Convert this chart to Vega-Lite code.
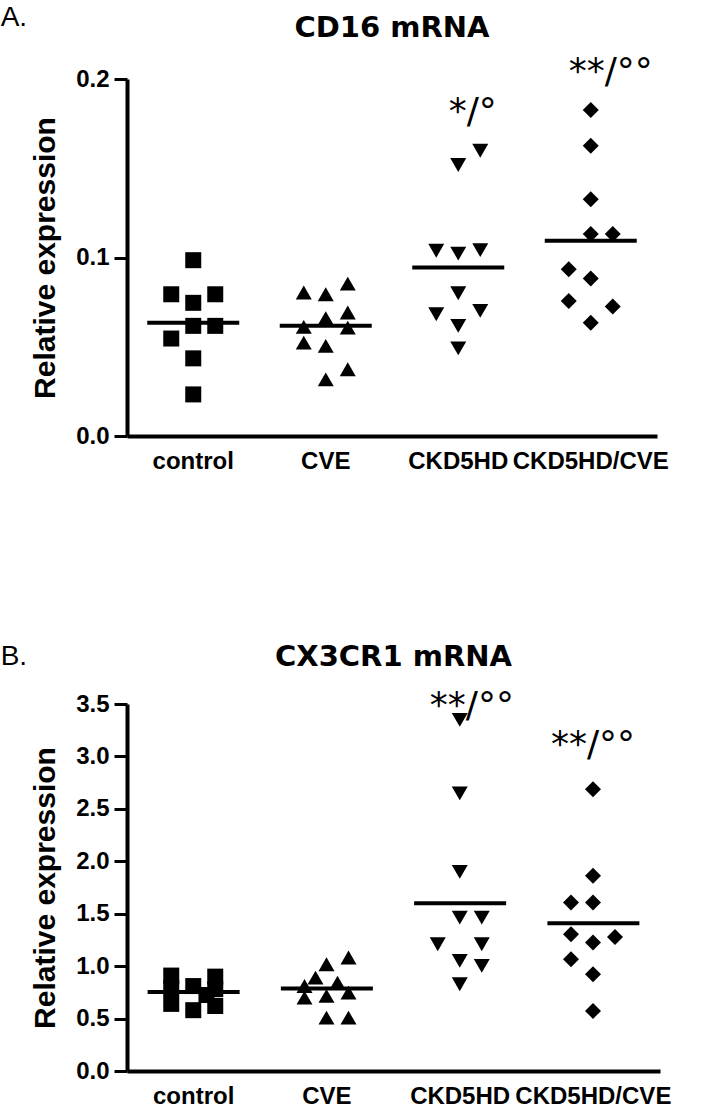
{
  "$schema": "https://vega.github.io/schema/vega-lite/v6.json",
  "background": "white",
  "padding": {"left": 0, "top": 3, "right": 5, "bottom": 0},
  "config": {
    "font": "Liberation Sans",
    "view": {"stroke": null},
    "axis": {"grid": false, "domainColor": "black", "domainWidth": 4, "tickColor": "black", "tickWidth": 3, "tickSize": 13, "labelColor": "black", "labelFont": "Liberation Sans", "labelFontWeight": "bold", "titleColor": "black", "titleFont": "Liberation Sans", "titleFontWeight": "bold"},
    "axisX": {"ticks": false, "labelAngle": 0, "labelFontSize": 24, "labelPadding": 13, "title": null},
    "axisY": {"labelFontSize": 24, "labelPadding": 5, "titleFontSize": 30, "titlePadding": 15},
    "title": {"color": "black"},
    "concat": {"spacing": 169}
  },
  "datasets": {
    "a_pts": [
      {"group": "control", "jitter": 0, "value": 0.0985},
      {"group": "control", "jitter": -1, "value": 0.0794},
      {"group": "control", "jitter": 1, "value": 0.0794},
      {"group": "control", "jitter": 0, "value": 0.0746},
      {"group": "control", "jitter": 0, "value": 0.0617},
      {"group": "control", "jitter": 1, "value": 0.0617},
      {"group": "control", "jitter": -1, "value": 0.0546},
      {"group": "control", "jitter": 0, "value": 0.0435},
      {"group": "control", "jitter": 0, "value": 0.0233},
      {"group": "CVE", "jitter": -1, "value": 0.0804},
      {"group": "CVE", "jitter": 0, "value": 0.0794},
      {"group": "CVE", "jitter": 1, "value": 0.0854},
      {"group": "CVE", "jitter": 0, "value": 0.0660},
      {"group": "CVE", "jitter": 1, "value": 0.0692},
      {"group": "CVE", "jitter": -1, "value": 0.0611},
      {"group": "CVE", "jitter": 1, "value": 0.0607},
      {"group": "CVE", "jitter": -1, "value": 0.0523},
      {"group": "CVE", "jitter": 0, "value": 0.0505},
      {"group": "CVE", "jitter": 1, "value": 0.0374},
      {"group": "CVE", "jitter": 0, "value": 0.0317},
      {"group": "CKD5HD", "jitter": 1, "value": 0.1598},
      {"group": "CKD5HD", "jitter": 0, "value": 0.1518},
      {"group": "CKD5HD", "jitter": -1, "value": 0.1038},
      {"group": "CKD5HD", "jitter": 0, "value": 0.1022},
      {"group": "CKD5HD", "jitter": 1, "value": 0.1041},
      {"group": "CKD5HD", "jitter": 0, "value": 0.0800},
      {"group": "CKD5HD", "jitter": -1, "value": 0.0682},
      {"group": "CKD5HD", "jitter": 1, "value": 0.0701},
      {"group": "CKD5HD", "jitter": 0, "value": 0.0617},
      {"group": "CKD5HD", "jitter": 0, "value": 0.0491},
      {"group": "CKD5HD/CVE", "jitter": 0, "value": 0.1826},
      {"group": "CKD5HD/CVE", "jitter": 0, "value": 0.1626},
      {"group": "CKD5HD/CVE", "jitter": 0, "value": 0.1327},
      {"group": "CKD5HD/CVE", "jitter": 0, "value": 0.1131},
      {"group": "CKD5HD/CVE", "jitter": 1, "value": 0.1131},
      {"group": "CKD5HD/CVE", "jitter": -1, "value": 0.0934},
      {"group": "CKD5HD/CVE", "jitter": 0, "value": 0.0882},
      {"group": "CKD5HD/CVE", "jitter": -1, "value": 0.0757},
      {"group": "CKD5HD/CVE", "jitter": 1, "value": 0.0725},
      {"group": "CKD5HD/CVE", "jitter": 0, "value": 0.0635}
    ],
    "a_means": [
      {"group": "control", "value": 0.0635},
      {"group": "CVE", "value": 0.0617},
      {"group": "CKD5HD", "value": 0.0944},
      {"group": "CKD5HD/CVE", "value": 0.1094}
    ],
    "a_ann": [
      {"group": "CKD5HD", "jitter": 0.66, "value": 0.1754, "label": "*/°"},
      {"group": "CKD5HD/CVE", "jitter": 0.91, "value": 0.1978, "label": "**/°°"}
    ],
    "b_pts": [
      {"group": "control", "jitter": -1, "value": 0.91},
      {"group": "control", "jitter": 1, "value": 0.90},
      {"group": "control", "jitter": 0, "value": 0.81},
      {"group": "control", "jitter": -1, "value": 0.79},
      {"group": "control", "jitter": 0.6, "value": 0.725},
      {"group": "control", "jitter": -1, "value": 0.64},
      {"group": "control", "jitter": 1, "value": 0.62},
      {"group": "control", "jitter": 0, "value": 0.58},
      {"group": "control", "jitter": 1, "value": 0.78},
      {"group": "CVE", "jitter": 0, "value": 1.018},
      {"group": "CVE", "jitter": 1, "value": 1.082},
      {"group": "CVE", "jitter": -0.5, "value": 0.891},
      {"group": "CVE", "jitter": -1, "value": 0.811},
      {"group": "CVE", "jitter": 0.5, "value": 0.843},
      {"group": "CVE", "jitter": -1, "value": 0.700},
      {"group": "CVE", "jitter": 0, "value": 0.716},
      {"group": "CVE", "jitter": 1, "value": 0.748},
      {"group": "CVE", "jitter": 0, "value": 0.509},
      {"group": "CVE", "jitter": 1, "value": 0.509},
      {"group": "CKD5HD", "jitter": 0, "value": 3.349},
      {"group": "CKD5HD", "jitter": 0, "value": 2.647},
      {"group": "CKD5HD", "jitter": 0, "value": 1.899},
      {"group": "CKD5HD", "jitter": 0, "value": 1.463},
      {"group": "CKD5HD", "jitter": 1, "value": 1.463},
      {"group": "CKD5HD", "jitter": -1, "value": 1.209},
      {"group": "CKD5HD", "jitter": 1, "value": 1.209},
      {"group": "CKD5HD", "jitter": 0, "value": 1.050},
      {"group": "CKD5HD", "jitter": 1, "value": 1.002},
      {"group": "CKD5HD", "jitter": 0, "value": 0.827},
      {"group": "CKD5HD/CVE", "jitter": 0, "value": 2.688},
      {"group": "CKD5HD/CVE", "jitter": 0, "value": 1.861},
      {"group": "CKD5HD/CVE", "jitter": -1, "value": 1.607},
      {"group": "CKD5HD/CVE", "jitter": 0, "value": 1.607},
      {"group": "CKD5HD/CVE", "jitter": -1, "value": 1.304},
      {"group": "CKD5HD/CVE", "jitter": 0, "value": 1.225},
      {"group": "CKD5HD/CVE", "jitter": 1, "value": 1.279},
      {"group": "CKD5HD/CVE", "jitter": -1, "value": 1.066},
      {"group": "CKD5HD/CVE", "jitter": 0, "value": 0.923},
      {"group": "CKD5HD/CVE", "jitter": 0, "value": 0.573}
    ],
    "b_means": [
      {"group": "control", "value": 0.754},
      {"group": "CVE", "value": 0.786},
      {"group": "CKD5HD", "value": 1.600},
      {"group": "CKD5HD/CVE", "value": 1.409}
    ],
    "b_ann": [
      {"group": "CKD5HD", "jitter": 0.55, "value": 3.379, "label": "**/°°"},
      {"group": "CKD5HD/CVE", "jitter": 0, "value": 3.007, "label": "**/°°"}
    ]
  },
  "vconcat": [
    {
      "title": {"text": "A.", "anchor": "start", "frame": "bounds", "fontSize": 28, "fontWeight": "normal", "font": "Liberation Sans", "dy": 22, "dx": -30},
      "vconcat": [
        {
          "width": 530,
          "height": 357,
          "title": {"text": "CD16 mRNA", "fontSize": 29, "font": "DejaVu Sans", "fontWeight": "bold", "offset": 11},
          "layer": [
            {
              "data": {"name": "a_pts"},
              "mark": {"type": "point", "filled": true, "opacity": 1, "color": "black", "strokeWidth": 0, "size": 256},
              "encoding": {
                "x": {"field": "group", "type": "nominal", "sort": ["control", "CVE", "CKD5HD", "CKD5HD/CVE"], "scale": {"paddingInner": 0, "paddingOuter": 0}},
                "xOffset": {"field": "jitter", "type": "quantitative", "scale": {"domain": [-1, 1], "range": [44.25, 88.25]}},
                "y": {"field": "value", "type": "quantitative", "scale": {"domain": [0, 0.2], "nice": false}, "axis": {"values": [0, 0.1, 0.2], "format": ".1f", "title": "Relative expression"}},
                "shape": {"field": "group", "type": "nominal", "scale": {"domain": ["control", "CVE", "CKD5HD", "CKD5HD/CVE"], "range": ["square", "triangle-up", "triangle-down", "diamond"]}, "legend": null}
              }
            },
            {
              "data": {"name": "a_means"},
              "mark": {"type": "tick", "color": "black", "thickness": 4, "size": 92, "opacity": 1},
              "encoding": {
                "x": {"field": "group", "type": "nominal", "sort": ["control", "CVE", "CKD5HD", "CKD5HD/CVE"]},
                "y": {"field": "value", "type": "quantitative"}
              }
            },
            {
              "data": {"name": "a_ann"},
              "mark": {"type": "text", "fontSize": 36, "font": "DejaVu Sans", "baseline": "alphabetic", "color": "black"},
              "encoding": {
                "x": {"field": "group", "type": "nominal", "sort": ["control", "CVE", "CKD5HD", "CKD5HD/CVE"]},
                "xOffset": {"field": "jitter", "type": "quantitative"},
                "y": {"field": "value", "type": "quantitative"},
                "text": {"field": "label"}
              }
            }
          ]
        }
      ]
    },
    {
      "title": {"text": "B.", "anchor": "start", "frame": "bounds", "fontSize": 28, "fontWeight": "normal", "font": "Liberation Sans", "dy": 32, "dx": -30},
      "vconcat": [
        {
          "width": 533,
          "height": 367,
          "title": {"text": "CX3CR1 mRNA", "fontSize": 29, "font": "DejaVu Sans", "fontWeight": "bold", "offset": 16},
          "layer": [
            {
              "data": {"name": "b_pts"},
              "mark": {"type": "point", "filled": true, "opacity": 1, "color": "black", "strokeWidth": 0, "size": 256},
              "encoding": {
                "x": {"field": "group", "type": "nominal", "sort": ["control", "CVE", "CKD5HD", "CKD5HD/CVE"], "scale": {"paddingInner": 0, "paddingOuter": 0}},
                "xOffset": {"field": "jitter", "type": "quantitative", "scale": {"domain": [-1, 1], "range": [44.6, 88.6]}},
                "y": {"field": "value", "type": "quantitative", "scale": {"domain": [0, 3.5], "nice": false}, "axis": {"values": [0, 0.5, 1, 1.5, 2, 2.5, 3, 3.5], "format": ".1f", "title": "Relative expression"}},
                "shape": {"field": "group", "type": "nominal", "scale": {"domain": ["control", "CVE", "CKD5HD", "CKD5HD/CVE"], "range": ["square", "triangle-up", "triangle-down", "diamond"]}, "legend": null}
              }
            },
            {
              "data": {"name": "b_means"},
              "mark": {"type": "tick", "color": "black", "thickness": 4, "size": 92, "opacity": 1},
              "encoding": {
                "x": {"field": "group", "type": "nominal", "sort": ["control", "CVE", "CKD5HD", "CKD5HD/CVE"]},
                "y": {"field": "value", "type": "quantitative"}
              }
            },
            {
              "data": {"name": "b_ann"},
              "mark": {"type": "text", "fontSize": 36, "font": "DejaVu Sans", "baseline": "alphabetic", "color": "black"},
              "encoding": {
                "x": {"field": "group", "type": "nominal", "sort": ["control", "CVE", "CKD5HD", "CKD5HD/CVE"]},
                "xOffset": {"field": "jitter", "type": "quantitative"},
                "y": {"field": "value", "type": "quantitative"},
                "text": {"field": "label"}
              }
            }
          ]
        }
      ]
    }
  ]
}
